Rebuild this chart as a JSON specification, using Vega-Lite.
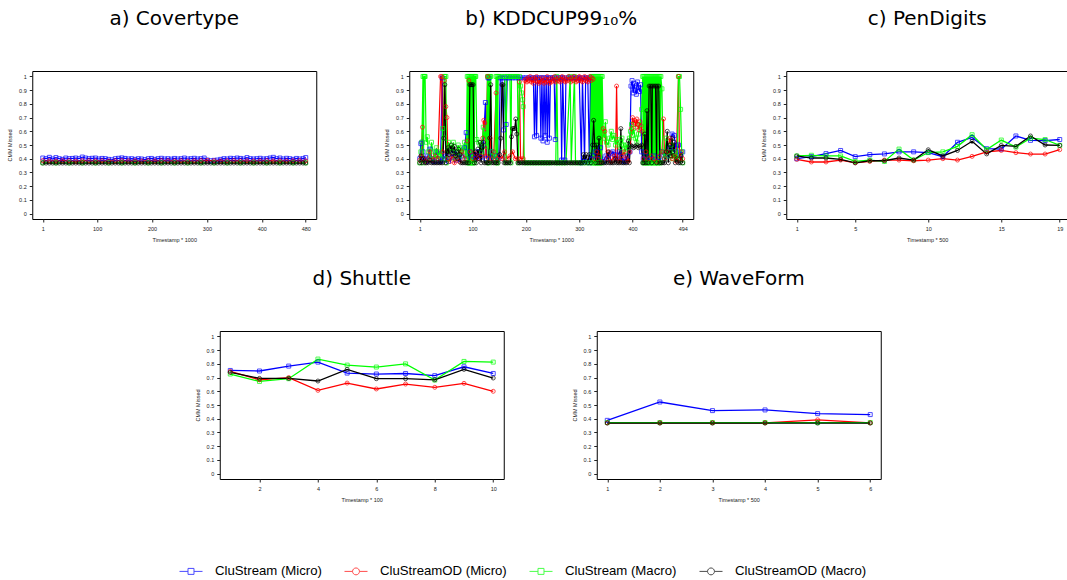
{
"$schema": "https://vega.github.io/schema/vega-lite/v6.json",
"padding": {"left": 7, "top": 8, "right": 0, "bottom": 0},
"datasets": {
"names": [{"s":1,"name":"CluStream (Micro)"},{"s":2,"name":"CluStreamOD (Micro)"},{"s":3,"name":"CluStream (Macro)"},{"s":4,"name":"CluStreamOD (Macro)"}],
"a": [
{"s":1,"x":1,"y":0.405},{"s":1,"x":7,"y":0.4},{"s":1,"x":13,"y":0.41},{"s":1,"x":19,"y":0.398},{"s":1,"x":25,"y":0.408},{"s":1,"x":31,"y":0.4},{"s":1,"x":37,"y":0.395},{"s":1,"x":43,"y":0.405},{"s":1,"x":49,"y":0.4},{"s":1,"x":55,"y":0.402},{"s":1,"x":61,"y":0.405},{"s":1,"x":67,"y":0.4},{"s":1,"x":73,"y":0.412},{"s":1,"x":79,"y":0.405},{"s":1,"x":85,"y":0.4},{"s":1,"x":91,"y":0.403},{"s":1,"x":97,"y":0.405},{"s":1,"x":103,"y":0.398},{"s":1,"x":109,"y":0.402},{"s":1,"x":115,"y":0.4},{"s":1,"x":121,"y":0.395},{"s":1,"x":127,"y":0.392},{"s":1,"x":133,"y":0.4},{"s":1,"x":139,"y":0.403},{"s":1,"x":145,"y":0.406},{"s":1,"x":151,"y":0.402},{"s":1,"x":157,"y":0.398},{"s":1,"x":163,"y":0.4},{"s":1,"x":169,"y":0.395},{"s":1,"x":175,"y":0.4},{"s":1,"x":181,"y":0.398},{"s":1,"x":187,"y":0.393},{"s":1,"x":193,"y":0.4},{"s":1,"x":199,"y":0.402},{"s":1,"x":205,"y":0.395},{"s":1,"x":211,"y":0.4},{"s":1,"x":217,"y":0.403},{"s":1,"x":223,"y":0.398},{"s":1,"x":229,"y":0.4},{"s":1,"x":235,"y":0.397},{"s":1,"x":241,"y":0.402},{"s":1,"x":247,"y":0.398},{"s":1,"x":253,"y":0.4},{"s":1,"x":259,"y":0.405},{"s":1,"x":265,"y":0.398},{"s":1,"x":271,"y":0.4},{"s":1,"x":277,"y":0.403},{"s":1,"x":283,"y":0.398},{"s":1,"x":289,"y":0.4},{"s":1,"x":295,"y":0.405},{"s":1,"x":301,"y":0.39},{"s":1,"x":307,"y":0.385},{"s":1,"x":313,"y":0.388},{"s":1,"x":319,"y":0.39},{"s":1,"x":325,"y":0.395},{"s":1,"x":331,"y":0.4},{"s":1,"x":337,"y":0.398},{"s":1,"x":343,"y":0.403},{"s":1,"x":349,"y":0.4},{"s":1,"x":355,"y":0.405},{"s":1,"x":361,"y":0.402},{"s":1,"x":367,"y":0.398},{"s":1,"x":373,"y":0.408},{"s":1,"x":379,"y":0.4},{"s":1,"x":385,"y":0.398},{"s":1,"x":391,"y":0.4},{"s":1,"x":397,"y":0.403},{"s":1,"x":403,"y":0.398},{"s":1,"x":409,"y":0.4},{"s":1,"x":415,"y":0.405},{"s":1,"x":421,"y":0.41},{"s":1,"x":427,"y":0.4},{"s":1,"x":433,"y":0.405},{"s":1,"x":439,"y":0.398},{"s":1,"x":445,"y":0.403},{"s":1,"x":451,"y":0.4},{"s":1,"x":457,"y":0.395},{"s":1,"x":463,"y":0.402},{"s":1,"x":469,"y":0.398},{"s":1,"x":475,"y":0.4},{"s":1,"x":480,"y":0.408},
{"s":2,"x":1,"y":0.386},{"s":2,"x":13,"y":0.385},{"s":2,"x":25,"y":0.384},{"s":2,"x":37,"y":0.386},{"s":2,"x":49,"y":0.385},{"s":2,"x":61,"y":0.383},{"s":2,"x":73,"y":0.386},{"s":2,"x":85,"y":0.385},{"s":2,"x":97,"y":0.384},{"s":2,"x":109,"y":0.385},{"s":2,"x":121,"y":0.383},{"s":2,"x":133,"y":0.385},{"s":2,"x":145,"y":0.386},{"s":2,"x":157,"y":0.384},{"s":2,"x":169,"y":0.385},{"s":2,"x":181,"y":0.383},{"s":2,"x":193,"y":0.385},{"s":2,"x":205,"y":0.384},{"s":2,"x":217,"y":0.386},{"s":2,"x":229,"y":0.385},{"s":2,"x":241,"y":0.384},{"s":2,"x":253,"y":0.385},{"s":2,"x":265,"y":0.383},{"s":2,"x":277,"y":0.385},{"s":2,"x":289,"y":0.386},{"s":2,"x":301,"y":0.388},{"s":2,"x":313,"y":0.385},{"s":2,"x":325,"y":0.384},{"s":2,"x":337,"y":0.385},{"s":2,"x":349,"y":0.386},{"s":2,"x":361,"y":0.384},{"s":2,"x":373,"y":0.385},{"s":2,"x":385,"y":0.383},{"s":2,"x":397,"y":0.385},{"s":2,"x":409,"y":0.386},{"s":2,"x":421,"y":0.384},{"s":2,"x":433,"y":0.385},{"s":2,"x":445,"y":0.384},{"s":2,"x":457,"y":0.385},{"s":2,"x":469,"y":0.386},{"s":2,"x":480,"y":0.385},
{"s":3,"x":1,"y":0.37},{"s":3,"x":25,"y":0.37},{"s":3,"x":49,"y":0.37},{"s":3,"x":73,"y":0.37},{"s":3,"x":97,"y":0.37},{"s":3,"x":121,"y":0.37},{"s":3,"x":145,"y":0.37},{"s":3,"x":169,"y":0.37},{"s":3,"x":193,"y":0.37},{"s":3,"x":217,"y":0.37},{"s":3,"x":241,"y":0.37},{"s":3,"x":265,"y":0.37},{"s":3,"x":289,"y":0.37},{"s":3,"x":313,"y":0.37},{"s":3,"x":337,"y":0.37},{"s":3,"x":361,"y":0.37},{"s":3,"x":385,"y":0.37},{"s":3,"x":409,"y":0.37},{"s":3,"x":433,"y":0.37},{"s":3,"x":457,"y":0.37},{"s":3,"x":480,"y":0.37},
{"s":4,"x":1,"y":0.368},{"s":4,"x":7,"y":0.368},{"s":4,"x":13,"y":0.368},{"s":4,"x":19,"y":0.368},{"s":4,"x":25,"y":0.368},{"s":4,"x":31,"y":0.368},{"s":4,"x":37,"y":0.368},{"s":4,"x":43,"y":0.368},{"s":4,"x":49,"y":0.368},{"s":4,"x":55,"y":0.368},{"s":4,"x":61,"y":0.368},{"s":4,"x":67,"y":0.368},{"s":4,"x":73,"y":0.368},{"s":4,"x":79,"y":0.368},{"s":4,"x":85,"y":0.368},{"s":4,"x":91,"y":0.368},{"s":4,"x":97,"y":0.368},{"s":4,"x":103,"y":0.368},{"s":4,"x":109,"y":0.368},{"s":4,"x":115,"y":0.368},{"s":4,"x":121,"y":0.368},{"s":4,"x":127,"y":0.368},{"s":4,"x":133,"y":0.368},{"s":4,"x":139,"y":0.368},{"s":4,"x":145,"y":0.368},{"s":4,"x":151,"y":0.368},{"s":4,"x":157,"y":0.368},{"s":4,"x":163,"y":0.368},{"s":4,"x":169,"y":0.368},{"s":4,"x":175,"y":0.368},{"s":4,"x":181,"y":0.368},{"s":4,"x":187,"y":0.368},{"s":4,"x":193,"y":0.368},{"s":4,"x":199,"y":0.368},{"s":4,"x":205,"y":0.368},{"s":4,"x":211,"y":0.368},{"s":4,"x":217,"y":0.368},{"s":4,"x":223,"y":0.368},{"s":4,"x":229,"y":0.368},{"s":4,"x":235,"y":0.368},{"s":4,"x":241,"y":0.368},{"s":4,"x":247,"y":0.368},{"s":4,"x":253,"y":0.368},{"s":4,"x":259,"y":0.368},{"s":4,"x":265,"y":0.368},{"s":4,"x":271,"y":0.368},{"s":4,"x":277,"y":0.368},{"s":4,"x":283,"y":0.368},{"s":4,"x":289,"y":0.368},{"s":4,"x":295,"y":0.368},{"s":4,"x":301,"y":0.368},{"s":4,"x":307,"y":0.368},{"s":4,"x":313,"y":0.368},{"s":4,"x":319,"y":0.368},{"s":4,"x":325,"y":0.368},{"s":4,"x":331,"y":0.368},{"s":4,"x":337,"y":0.368},{"s":4,"x":343,"y":0.368},{"s":4,"x":349,"y":0.368},{"s":4,"x":355,"y":0.368},{"s":4,"x":361,"y":0.368},{"s":4,"x":367,"y":0.368},{"s":4,"x":373,"y":0.368},{"s":4,"x":379,"y":0.368},{"s":4,"x":385,"y":0.368},{"s":4,"x":391,"y":0.368},{"s":4,"x":397,"y":0.368},{"s":4,"x":403,"y":0.368},{"s":4,"x":409,"y":0.368},{"s":4,"x":415,"y":0.368},{"s":4,"x":421,"y":0.368},{"s":4,"x":427,"y":0.368},{"s":4,"x":433,"y":0.368},{"s":4,"x":439,"y":0.368},{"s":4,"x":445,"y":0.368},{"s":4,"x":451,"y":0.368},{"s":4,"x":457,"y":0.368},{"s":4,"x":463,"y":0.368},{"s":4,"x":469,"y":0.368},{"s":4,"x":475,"y":0.368},{"s":4,"x":480,"y":0.368}
],
"b": [
{"s":1,"x":1,"y":0.4},{"s":1,"x":3,"y":0.51},{"s":1,"x":5,"y":0.52},{"s":1,"x":7,"y":0.45},{"s":1,"x":10,"y":0.4},{"s":1,"x":13,"y":0.38},{"s":1,"x":16,"y":0.42},{"s":1,"x":20,"y":0.47},{"s":1,"x":24,"y":0.4},{"s":1,"x":28,"y":0.38},{"s":1,"x":32,"y":0.45},{"s":1,"x":36,"y":0.4},{"s":1,"x":40,"y":0.38},{"s":1,"x":43,"y":0.99},{"s":1,"x":45,"y":0.4},{"s":1,"x":50,"y":0.42},{"s":1,"x":55,"y":0.38},{"s":1,"x":60,"y":0.41},{"s":1,"x":65,"y":0.44},{"s":1,"x":70,"y":0.39},{"s":1,"x":75,"y":0.4},{"s":1,"x":80,"y":0.42},{"s":1,"x":85,"y":0.48},{"s":1,"x":88,"y":0.59},{"s":1,"x":90,"y":0.4},{"s":1,"x":95,"y":0.45},{"s":1,"x":100,"y":0.42},{"s":1,"x":105,"y":0.4},{"s":1,"x":110,"y":0.45},{"s":1,"x":115,"y":0.41},{"s":1,"x":120,"y":0.5},{"s":1,"x":124,"y":0.81},{"s":1,"x":126,"y":0.4},{"s":1,"x":129,"y":0.99},{"s":1,"x":131,"y":0.99},{"s":1,"x":133,"y":0.4},{"s":1,"x":136,"y":0.45},{"s":1,"x":140,"y":0.4},{"s":1,"x":145,"y":0.42},{"s":1,"x":149,"y":0.4},{"s":1,"x":152,"y":0.99},{"s":1,"x":155,"y":0.99},{"s":1,"x":158,"y":0.61},{"s":1,"x":160,"y":0.99},{"s":1,"x":163,"y":0.65},{"s":1,"x":165,"y":0.99},{"s":1,"x":170,"y":0.99},{"s":1,"x":175,"y":0.99},{"s":1,"x":180,"y":0.99},{"s":1,"x":185,"y":0.99},{"s":1,"x":190,"y":0.99},{"s":1,"x":195,"y":0.99},{"s":1,"x":200,"y":0.99},{"s":1,"x":205,"y":0.99},{"s":1,"x":210,"y":0.99},{"s":1,"x":214,"y":0.99},{"s":1,"x":216,"y":0.56},{"s":1,"x":218,"y":0.99},{"s":1,"x":220,"y":0.57},{"s":1,"x":222,"y":0.99},{"s":1,"x":226,"y":0.99},{"s":1,"x":228,"y":0.55},{"s":1,"x":230,"y":0.99},{"s":1,"x":232,"y":0.53},{"s":1,"x":234,"y":0.99},{"s":1,"x":236,"y":0.57},{"s":1,"x":238,"y":0.99},{"s":1,"x":240,"y":0.52},{"s":1,"x":242,"y":0.99},{"s":1,"x":244,"y":0.55},{"s":1,"x":246,"y":0.99},{"s":1,"x":250,"y":0.99},{"s":1,"x":253,"y":0.99},{"s":1,"x":255,"y":0.54},{"s":1,"x":257,"y":0.99},{"s":1,"x":261,"y":0.99},{"s":1,"x":265,"y":0.99},{"s":1,"x":267,"y":0.39},{"s":1,"x":269,"y":0.99},{"s":1,"x":273,"y":0.39},{"s":1,"x":275,"y":0.99},{"s":1,"x":280,"y":0.99},{"s":1,"x":285,"y":0.99},{"s":1,"x":290,"y":0.99},{"s":1,"x":295,"y":0.99},{"s":1,"x":300,"y":0.99},{"s":1,"x":304,"y":0.37},{"s":1,"x":306,"y":0.99},{"s":1,"x":310,"y":0.38},{"s":1,"x":312,"y":0.99},{"s":1,"x":316,"y":0.99},{"s":1,"x":319,"y":0.37},{"s":1,"x":321,"y":0.99},{"s":1,"x":323,"y":0.4},{"s":1,"x":326,"y":0.42},{"s":1,"x":330,"y":0.45},{"s":1,"x":335,"y":0.4},{"s":1,"x":340,"y":0.48},{"s":1,"x":345,"y":0.38},{"s":1,"x":350,"y":0.42},{"s":1,"x":355,"y":0.4},{"s":1,"x":360,"y":0.44},{"s":1,"x":363,"y":0.45},{"s":1,"x":366,"y":0.43},{"s":1,"x":370,"y":0.4},{"s":1,"x":375,"y":0.45},{"s":1,"x":380,"y":0.41},{"s":1,"x":385,"y":0.38},{"s":1,"x":390,"y":0.42},{"s":1,"x":395,"y":0.45},{"s":1,"x":397,"y":0.93},{"s":1,"x":399,"y":0.97},{"s":1,"x":401,"y":0.88},{"s":1,"x":403,"y":0.95},{"s":1,"x":405,"y":0.9},{"s":1,"x":407,"y":0.87},{"s":1,"x":409,"y":0.96},{"s":1,"x":411,"y":0.92},{"s":1,"x":413,"y":0.89},{"s":1,"x":415,"y":0.94},{"s":1,"x":417,"y":0.45},{"s":1,"x":420,"y":0.4},{"s":1,"x":425,"y":0.42},{"s":1,"x":430,"y":0.38},{"s":1,"x":435,"y":0.4},{"s":1,"x":440,"y":0.42},{"s":1,"x":445,"y":0.38},{"s":1,"x":450,"y":0.41},{"s":1,"x":455,"y":0.45},{"s":1,"x":460,"y":0.4},{"s":1,"x":465,"y":0.42},{"s":1,"x":470,"y":0.48},{"s":1,"x":474,"y":0.58},{"s":1,"x":478,"y":0.57},{"s":1,"x":482,"y":0.45},{"s":1,"x":486,"y":0.5},{"s":1,"x":490,"y":0.43},{"s":1,"x":494,"y":0.45},
{"s":2,"x":1,"y":0.39},{"s":2,"x":4,"y":0.42},{"s":2,"x":6,"y":0.63},{"s":2,"x":8,"y":0.4},{"s":2,"x":12,"y":0.38},{"s":2,"x":16,"y":0.4},{"s":2,"x":20,"y":0.45},{"s":2,"x":25,"y":0.39},{"s":2,"x":30,"y":0.42},{"s":2,"x":35,"y":0.4},{"s":2,"x":40,"y":1},{"s":2,"x":42,"y":1},{"s":2,"x":44,"y":0.45},{"s":2,"x":47,"y":0.97},{"s":2,"x":50,"y":0.78},{"s":2,"x":52,"y":0.7},{"s":2,"x":54,"y":0.4},{"s":2,"x":58,"y":0.38},{"s":2,"x":62,"y":0.42},{"s":2,"x":66,"y":0.37},{"s":2,"x":70,"y":0.4},{"s":2,"x":75,"y":0.38},{"s":2,"x":80,"y":0.45},{"s":2,"x":85,"y":0.4},{"s":2,"x":90,"y":0.53},{"s":2,"x":93,"y":0.97},{"s":2,"x":96,"y":0.45},{"s":2,"x":100,"y":0.4},{"s":2,"x":105,"y":0.44},{"s":2,"x":110,"y":0.4},{"s":2,"x":115,"y":0.42},{"s":2,"x":119,"y":0.55},{"s":2,"x":121,"y":0.68},{"s":2,"x":123,"y":0.66},{"s":2,"x":125,"y":0.42},{"s":2,"x":128,"y":1},{"s":2,"x":130,"y":0.4},{"s":2,"x":133,"y":0.55},{"s":2,"x":136,"y":0.4},{"s":2,"x":140,"y":0.45},{"s":2,"x":144,"y":0.88},{"s":2,"x":146,"y":0.4},{"s":2,"x":150,"y":0.42},{"s":2,"x":155,"y":0.4},{"s":2,"x":160,"y":0.45},{"s":2,"x":165,"y":0.4},{"s":2,"x":170,"y":0.42},{"s":2,"x":175,"y":0.45},{"s":2,"x":180,"y":0.4},{"s":2,"x":185,"y":0.4},{"s":2,"x":188,"y":0.96},{"s":2,"x":190,"y":0.4},{"s":2,"x":195,"y":0.4},{"s":2,"x":198,"y":0.97},{"s":2,"x":200,"y":0.98},{"s":2,"x":202,"y":0.96},{"s":2,"x":204,"y":0.99},{"s":2,"x":206,"y":0.97},{"s":2,"x":208,"y":1},{"s":2,"x":210,"y":0.96},{"s":2,"x":212,"y":0.98},{"s":2,"x":214,"y":0.95},{"s":2,"x":216,"y":0.99},{"s":2,"x":218,"y":0.97},{"s":2,"x":220,"y":1},{"s":2,"x":222,"y":0.96},{"s":2,"x":224,"y":0.95},{"s":2,"x":226,"y":0.98},{"s":2,"x":228,"y":0.96},{"s":2,"x":230,"y":0.99},{"s":2,"x":232,"y":0.97},{"s":2,"x":234,"y":0.95},{"s":2,"x":236,"y":0.98},{"s":2,"x":238,"y":0.96},{"s":2,"x":240,"y":1},{"s":2,"x":242,"y":0.97},{"s":2,"x":244,"y":0.95},{"s":2,"x":246,"y":0.98},{"s":2,"x":248,"y":0.96},{"s":2,"x":250,"y":0.99},{"s":2,"x":252,"y":0.97},{"s":2,"x":254,"y":1},{"s":2,"x":256,"y":0.96},{"s":2,"x":258,"y":0.98},{"s":2,"x":260,"y":0.97},{"s":2,"x":262,"y":0.99},{"s":2,"x":264,"y":0.96},{"s":2,"x":266,"y":0.98},{"s":2,"x":268,"y":1},{"s":2,"x":270,"y":0.97},{"s":2,"x":272,"y":0.99},{"s":2,"x":274,"y":0.96},{"s":2,"x":276,"y":0.98},{"s":2,"x":278,"y":0.97},{"s":2,"x":280,"y":1},{"s":2,"x":282,"y":0.98},{"s":2,"x":284,"y":0.96},{"s":2,"x":286,"y":0.99},{"s":2,"x":288,"y":0.97},{"s":2,"x":290,"y":1},{"s":2,"x":292,"y":0.98},{"s":2,"x":294,"y":0.96},{"s":2,"x":296,"y":0.99},{"s":2,"x":298,"y":0.97},{"s":2,"x":300,"y":1},{"s":2,"x":302,"y":0.97},{"s":2,"x":304,"y":0.99},{"s":2,"x":306,"y":0.96},{"s":2,"x":308,"y":0.98},{"s":2,"x":310,"y":1},{"s":2,"x":312,"y":0.97},{"s":2,"x":314,"y":0.99},{"s":2,"x":316,"y":0.96},{"s":2,"x":318,"y":0.98},{"s":2,"x":320,"y":1},{"s":2,"x":322,"y":0.97},{"s":2,"x":324,"y":0.99},{"s":2,"x":326,"y":0.98},{"s":2,"x":329,"y":0.4},{"s":2,"x":333,"y":0.45},{"s":2,"x":337,"y":0.42},{"s":2,"x":341,"y":0.38},{"s":2,"x":345,"y":0.62},{"s":2,"x":348,"y":0.6},{"s":2,"x":352,"y":0.4},{"s":2,"x":356,"y":0.45},{"s":2,"x":360,"y":0.38},{"s":2,"x":365,"y":0.42},{"s":2,"x":368,"y":0.4},{"s":2,"x":370,"y":0.93},{"s":2,"x":372,"y":0.4},{"s":2,"x":376,"y":0.38},{"s":2,"x":380,"y":0.42},{"s":2,"x":384,"y":0.45},{"s":2,"x":388,"y":0.4},{"s":2,"x":392,"y":0.38},{"s":2,"x":395,"y":0.45},{"s":2,"x":398,"y":0.62},{"s":2,"x":400,"y":0.7},{"s":2,"x":402,"y":0.66},{"s":2,"x":404,"y":0.68},{"s":2,"x":406,"y":0.63},{"s":2,"x":408,"y":0.69},{"s":2,"x":410,"y":0.65},{"s":2,"x":412,"y":0.61},{"s":2,"x":414,"y":0.67},{"s":2,"x":416,"y":0.64},{"s":2,"x":418,"y":0.6},{"s":2,"x":421,"y":0.4},{"s":2,"x":425,"y":0.45},{"s":2,"x":430,"y":0.4},{"s":2,"x":435,"y":0.42},{"s":2,"x":440,"y":0.4},{"s":2,"x":445,"y":0.38},{"s":2,"x":450,"y":0.42},{"s":2,"x":455,"y":0.45},{"s":2,"x":458,"y":0.69},{"s":2,"x":460,"y":0.4},{"s":2,"x":465,"y":0.45},{"s":2,"x":470,"y":0.55},{"s":2,"x":474,"y":0.4},{"s":2,"x":478,"y":0.42},{"s":2,"x":482,"y":0.38},{"s":2,"x":486,"y":1},{"s":2,"x":488,"y":0.4},{"s":2,"x":491,"y":0.45},{"s":2,"x":494,"y":0.4},
{"s":3,"x":1,"y":0.37},{"s":3,"x":3,"y":0.45},{"s":3,"x":5,"y":0.52},{"s":3,"x":7,"y":1},{"s":3,"x":8,"y":0.37},{"s":3,"x":9,"y":1},{"s":3,"x":10,"y":1},{"s":3,"x":11,"y":1},{"s":3,"x":13,"y":0.52},{"s":3,"x":15,"y":0.56},{"s":3,"x":17,"y":0.45},{"s":3,"x":20,"y":0.4},{"s":3,"x":23,"y":0.52},{"s":3,"x":26,"y":0.45},{"s":3,"x":29,"y":0.4},{"s":3,"x":32,"y":0.48},{"s":3,"x":35,"y":0.42},{"s":3,"x":38,"y":0.45},{"s":3,"x":41,"y":0.4},{"s":3,"x":44,"y":0.62},{"s":3,"x":46,"y":0.55},{"s":3,"x":47,"y":1},{"s":3,"x":48,"y":1},{"s":3,"x":50,"y":1},{"s":3,"x":51,"y":0.37},{"s":3,"x":52,"y":0.4},{"s":3,"x":55,"y":0.52},{"s":3,"x":58,"y":0.48},{"s":3,"x":61,"y":0.45},{"s":3,"x":64,"y":0.52},{"s":3,"x":67,"y":0.4},{"s":3,"x":70,"y":0.45},{"s":3,"x":73,"y":0.5},{"s":3,"x":76,"y":0.42},{"s":3,"x":79,"y":0.48},{"s":3,"x":82,"y":0.45},{"s":3,"x":85,"y":0.52},{"s":3,"x":88,"y":0.4},{"s":3,"x":90,"y":1},{"s":3,"x":91,"y":0.37},{"s":3,"x":92,"y":1},{"s":3,"x":93,"y":0.37},{"s":3,"x":94,"y":1},{"s":3,"x":95,"y":0.37},{"s":3,"x":96,"y":1},{"s":3,"x":97,"y":0.37},{"s":3,"x":98,"y":1},{"s":3,"x":99,"y":0.37},{"s":3,"x":100,"y":1},{"s":3,"x":101,"y":0.37},{"s":3,"x":102,"y":1},{"s":3,"x":103,"y":0.37},{"s":3,"x":104,"y":1},{"s":3,"x":105,"y":1},{"s":3,"x":106,"y":1},{"s":3,"x":108,"y":0.54},{"s":3,"x":111,"y":0.52},{"s":3,"x":114,"y":0.5},{"s":3,"x":117,"y":0.45},{"s":3,"x":120,"y":0.63},{"s":3,"x":122,"y":0.55},{"s":3,"x":124,"y":0.6},{"s":3,"x":126,"y":0.49},{"s":3,"x":128,"y":1},{"s":3,"x":129,"y":0.37},{"s":3,"x":130,"y":1},{"s":3,"x":131,"y":0.37},{"s":3,"x":132,"y":1},{"s":3,"x":133,"y":1},{"s":3,"x":134,"y":1},{"s":3,"x":136,"y":0.45},{"s":3,"x":139,"y":0.42},{"s":3,"x":142,"y":0.4},{"s":3,"x":144,"y":1},{"s":3,"x":145,"y":0.37},{"s":3,"x":146,"y":1},{"s":3,"x":147,"y":0.37},{"s":3,"x":148,"y":1},{"s":3,"x":150,"y":1},{"s":3,"x":155,"y":1},{"s":3,"x":160,"y":1},{"s":3,"x":163,"y":0.37},{"s":3,"x":164,"y":1},{"s":3,"x":167,"y":1},{"s":3,"x":170,"y":1},{"s":3,"x":172,"y":0.37},{"s":3,"x":173,"y":1},{"s":3,"x":176,"y":1},{"s":3,"x":179,"y":1},{"s":3,"x":182,"y":1},{"s":3,"x":184,"y":1},{"s":3,"x":186,"y":0.37},{"s":3,"x":188,"y":1},{"s":3,"x":190,"y":0.93},{"s":3,"x":192,"y":0.88},{"s":3,"x":194,"y":0.83},{"s":3,"x":195,"y":0.78},{"s":3,"x":197,"y":0.37},{"s":3,"x":202,"y":0.37},{"s":3,"x":207,"y":0.37},{"s":3,"x":212,"y":0.37},{"s":3,"x":217,"y":0.37},{"s":3,"x":222,"y":0.37},{"s":3,"x":227,"y":0.37},{"s":3,"x":232,"y":0.37},{"s":3,"x":237,"y":0.37},{"s":3,"x":242,"y":0.37},{"s":3,"x":247,"y":0.37},{"s":3,"x":256,"y":0.37},{"s":3,"x":258,"y":1},{"s":3,"x":260,"y":0.37},{"s":3,"x":265,"y":0.37},{"s":3,"x":270,"y":0.37},{"s":3,"x":275,"y":0.37},{"s":3,"x":283,"y":1},{"s":3,"x":285,"y":0.37},{"s":3,"x":291,"y":1},{"s":3,"x":293,"y":0.37},{"s":3,"x":299,"y":0.37},{"s":3,"x":304,"y":0.37},{"s":3,"x":310,"y":0.37},{"s":3,"x":315,"y":0.37},{"s":3,"x":320,"y":0.37},{"s":3,"x":323,"y":1},{"s":3,"x":324,"y":0.37},{"s":3,"x":325,"y":1},{"s":3,"x":326,"y":0.37},{"s":3,"x":327,"y":1},{"s":3,"x":328,"y":0.37},{"s":3,"x":329,"y":1},{"s":3,"x":330,"y":0.37},{"s":3,"x":331,"y":1},{"s":3,"x":332,"y":0.37},{"s":3,"x":333,"y":1},{"s":3,"x":334,"y":0.37},{"s":3,"x":335,"y":1},{"s":3,"x":336,"y":0.37},{"s":3,"x":337,"y":1},{"s":3,"x":338,"y":0.37},{"s":3,"x":339,"y":1},{"s":3,"x":340,"y":0.37},{"s":3,"x":341,"y":1},{"s":3,"x":342,"y":0.37},{"s":3,"x":343,"y":1},{"s":3,"x":345,"y":0.58},{"s":3,"x":347,"y":0.55},{"s":3,"x":349,"y":0.67},{"s":3,"x":351,"y":0.52},{"s":3,"x":354,"y":0.5},{"s":3,"x":357,"y":0.55},{"s":3,"x":360,"y":0.6},{"s":3,"x":362,"y":0.54},{"s":3,"x":365,"y":0.57},{"s":3,"x":368,"y":0.5},{"s":3,"x":371,"y":0.54},{"s":3,"x":374,"y":0.52},{"s":3,"x":377,"y":0.48},{"s":3,"x":380,"y":0.55},{"s":3,"x":383,"y":0.5},{"s":3,"x":386,"y":0.45},{"s":3,"x":389,"y":0.5},{"s":3,"x":392,"y":0.48},{"s":3,"x":394,"y":0.55},{"s":3,"x":396,"y":0.6},{"s":3,"x":398,"y":0.65},{"s":3,"x":400,"y":0.57},{"s":3,"x":402,"y":0.62},{"s":3,"x":405,"y":0.55},{"s":3,"x":408,"y":0.52},{"s":3,"x":411,"y":0.58},{"s":3,"x":414,"y":0.65},{"s":3,"x":417,"y":0.76},{"s":3,"x":419,"y":1},{"s":3,"x":420,"y":0.37},{"s":3,"x":421,"y":1},{"s":3,"x":422,"y":0.37},{"s":3,"x":423,"y":1},{"s":3,"x":424,"y":0.37},{"s":3,"x":425,"y":1},{"s":3,"x":426,"y":0.37},{"s":3,"x":427,"y":1},{"s":3,"x":428,"y":0.37},{"s":3,"x":429,"y":1},{"s":3,"x":430,"y":0.37},{"s":3,"x":431,"y":1},{"s":3,"x":432,"y":0.37},{"s":3,"x":433,"y":1},{"s":3,"x":434,"y":0.37},{"s":3,"x":435,"y":1},{"s":3,"x":436,"y":0.37},{"s":3,"x":437,"y":1},{"s":3,"x":438,"y":0.37},{"s":3,"x":439,"y":1},{"s":3,"x":440,"y":0.37},{"s":3,"x":441,"y":1},{"s":3,"x":442,"y":0.37},{"s":3,"x":443,"y":1},{"s":3,"x":444,"y":0.37},{"s":3,"x":445,"y":1},{"s":3,"x":446,"y":0.37},{"s":3,"x":447,"y":1},{"s":3,"x":448,"y":0.37},{"s":3,"x":449,"y":1},{"s":3,"x":450,"y":0.37},{"s":3,"x":451,"y":1},{"s":3,"x":452,"y":0.37},{"s":3,"x":453,"y":1},{"s":3,"x":455,"y":0.91},{"s":3,"x":457,"y":0.45},{"s":3,"x":460,"y":0.4},{"s":3,"x":463,"y":0.55},{"s":3,"x":466,"y":0.42},{"s":3,"x":469,"y":0.45},{"s":3,"x":472,"y":0.5},{"s":3,"x":475,"y":0.4},{"s":3,"x":478,"y":0.45},{"s":3,"x":481,"y":0.42},{"s":3,"x":484,"y":0.4},{"s":3,"x":486,"y":1},{"s":3,"x":488,"y":1},{"s":3,"x":490,"y":0.76},{"s":3,"x":492,"y":0.45},{"s":3,"x":494,"y":0.37},
{"s":4,"x":1,"y":0.37},{"s":4,"x":3,"y":0.42},{"s":4,"x":5,"y":0.37},{"s":4,"x":8,"y":0.4},{"s":4,"x":11,"y":0.37},{"s":4,"x":14,"y":0.37},{"s":4,"x":17,"y":0.37},{"s":4,"x":20,"y":0.39},{"s":4,"x":23,"y":0.37},{"s":4,"x":26,"y":0.37},{"s":4,"x":29,"y":0.37},{"s":4,"x":32,"y":0.37},{"s":4,"x":35,"y":0.37},{"s":4,"x":38,"y":0.37},{"s":4,"x":41,"y":0.37},{"s":4,"x":44,"y":0.37},{"s":4,"x":46,"y":0.55},{"s":4,"x":48,"y":0.94},{"s":4,"x":50,"y":0.37},{"s":4,"x":52,"y":0.45},{"s":4,"x":54,"y":0.48},{"s":4,"x":56,"y":0.43},{"s":4,"x":58,"y":0.47},{"s":4,"x":60,"y":0.5},{"s":4,"x":62,"y":0.44},{"s":4,"x":64,"y":0.46},{"s":4,"x":66,"y":0.49},{"s":4,"x":68,"y":0.42},{"s":4,"x":70,"y":0.45},{"s":4,"x":72,"y":0.4},{"s":4,"x":74,"y":0.47},{"s":4,"x":76,"y":0.43},{"s":4,"x":78,"y":0.37},{"s":4,"x":81,"y":0.37},{"s":4,"x":84,"y":0.37},{"s":4,"x":87,"y":0.37},{"s":4,"x":90,"y":0.37},{"s":4,"x":93,"y":0.37},{"s":4,"x":95,"y":0.94},{"s":4,"x":97,"y":0.94},{"s":4,"x":99,"y":0.94},{"s":4,"x":101,"y":0.94},{"s":4,"x":103,"y":0.37},{"s":4,"x":105,"y":0.45},{"s":4,"x":107,"y":0.37},{"s":4,"x":110,"y":0.47},{"s":4,"x":112,"y":0.4},{"s":4,"x":114,"y":0.52},{"s":4,"x":116,"y":0.37},{"s":4,"x":118,"y":0.48},{"s":4,"x":120,"y":0.52},{"s":4,"x":122,"y":0.37},{"s":4,"x":125,"y":0.37},{"s":4,"x":128,"y":0.37},{"s":4,"x":130,"y":0.37},{"s":4,"x":132,"y":0.55},{"s":4,"x":134,"y":0.94},{"s":4,"x":136,"y":0.37},{"s":4,"x":139,"y":0.37},{"s":4,"x":142,"y":0.37},{"s":4,"x":145,"y":0.37},{"s":4,"x":148,"y":0.37},{"s":4,"x":151,"y":0.43},{"s":4,"x":153,"y":0.55},{"s":4,"x":155,"y":0.94},{"s":4,"x":157,"y":0.94},{"s":4,"x":159,"y":0.37},{"s":4,"x":162,"y":0.37},{"s":4,"x":165,"y":0.37},{"s":4,"x":168,"y":0.37},{"s":4,"x":171,"y":0.37},{"s":4,"x":173,"y":0.56},{"s":4,"x":175,"y":0.62},{"s":4,"x":177,"y":0.62},{"s":4,"x":179,"y":0.62},{"s":4,"x":181,"y":0.69},{"s":4,"x":183,"y":0.58},{"s":4,"x":185,"y":0.37},{"s":4,"x":188,"y":0.37},{"s":4,"x":191,"y":0.37},{"s":4,"x":194,"y":0.37},{"s":4,"x":197,"y":0.37},{"s":4,"x":200,"y":0.37},{"s":4,"x":203,"y":0.37},{"s":4,"x":206,"y":0.37},{"s":4,"x":209,"y":0.37},{"s":4,"x":212,"y":0.37},{"s":4,"x":215,"y":0.37},{"s":4,"x":218,"y":0.37},{"s":4,"x":221,"y":0.37},{"s":4,"x":224,"y":0.37},{"s":4,"x":227,"y":0.37},{"s":4,"x":230,"y":0.37},{"s":4,"x":233,"y":0.37},{"s":4,"x":236,"y":0.37},{"s":4,"x":239,"y":0.37},{"s":4,"x":242,"y":0.37},{"s":4,"x":245,"y":0.37},{"s":4,"x":248,"y":0.37},{"s":4,"x":251,"y":0.37},{"s":4,"x":254,"y":0.37},{"s":4,"x":257,"y":0.37},{"s":4,"x":260,"y":0.37},{"s":4,"x":263,"y":0.37},{"s":4,"x":266,"y":0.37},{"s":4,"x":269,"y":0.37},{"s":4,"x":272,"y":0.37},{"s":4,"x":275,"y":0.37},{"s":4,"x":278,"y":0.37},{"s":4,"x":281,"y":0.37},{"s":4,"x":284,"y":0.37},{"s":4,"x":287,"y":0.37},{"s":4,"x":290,"y":0.37},{"s":4,"x":293,"y":0.37},{"s":4,"x":296,"y":0.37},{"s":4,"x":299,"y":0.37},{"s":4,"x":302,"y":0.37},{"s":4,"x":305,"y":0.37},{"s":4,"x":308,"y":0.43},{"s":4,"x":310,"y":0.37},{"s":4,"x":313,"y":0.43},{"s":4,"x":316,"y":0.37},{"s":4,"x":319,"y":0.43},{"s":4,"x":322,"y":0.37},{"s":4,"x":325,"y":0.5},{"s":4,"x":327,"y":0.68},{"s":4,"x":329,"y":0.5},{"s":4,"x":331,"y":0.37},{"s":4,"x":333,"y":0.5},{"s":4,"x":335,"y":0.37},{"s":4,"x":337,"y":0.55},{"s":4,"x":339,"y":0.37},{"s":4,"x":342,"y":0.37},{"s":4,"x":345,"y":0.37},{"s":4,"x":348,"y":0.37},{"s":4,"x":351,"y":0.37},{"s":4,"x":354,"y":0.45},{"s":4,"x":356,"y":0.37},{"s":4,"x":359,"y":0.37},{"s":4,"x":362,"y":0.37},{"s":4,"x":365,"y":0.37},{"s":4,"x":368,"y":0.4},{"s":4,"x":370,"y":0.37},{"s":4,"x":373,"y":0.37},{"s":4,"x":376,"y":0.37},{"s":4,"x":378,"y":0.62},{"s":4,"x":380,"y":0.37},{"s":4,"x":383,"y":0.37},{"s":4,"x":386,"y":0.37},{"s":4,"x":389,"y":0.37},{"s":4,"x":392,"y":0.53},{"s":4,"x":394,"y":0.37},{"s":4,"x":396,"y":0.5},{"s":4,"x":399,"y":0.49},{"s":4,"x":402,"y":0.48},{"s":4,"x":405,"y":0.49},{"s":4,"x":408,"y":0.5},{"s":4,"x":411,"y":0.48},{"s":4,"x":414,"y":0.49},{"s":4,"x":417,"y":0.5},{"s":4,"x":419,"y":0.37},{"s":4,"x":421,"y":0.37},{"s":4,"x":423,"y":0.58},{"s":4,"x":425,"y":0.37},{"s":4,"x":427,"y":0.75},{"s":4,"x":429,"y":0.37},{"s":4,"x":431,"y":0.93},{"s":4,"x":434,"y":0.93},{"s":4,"x":436,"y":0.37},{"s":4,"x":437,"y":0.93},{"s":4,"x":440,"y":0.93},{"s":4,"x":443,"y":0.93},{"s":4,"x":445,"y":0.37},{"s":4,"x":446,"y":0.93},{"s":4,"x":449,"y":0.93},{"s":4,"x":451,"y":0.37},{"s":4,"x":454,"y":0.37},{"s":4,"x":457,"y":0.37},{"s":4,"x":460,"y":0.37},{"s":4,"x":463,"y":0.45},{"s":4,"x":465,"y":0.6},{"s":4,"x":467,"y":0.37},{"s":4,"x":470,"y":0.5},{"s":4,"x":472,"y":0.42},{"s":4,"x":474,"y":0.55},{"s":4,"x":476,"y":0.45},{"s":4,"x":478,"y":0.52},{"s":4,"x":480,"y":0.37},{"s":4,"x":483,"y":0.4},{"s":4,"x":486,"y":0.37},{"s":4,"x":489,"y":0.37},{"s":4,"x":491,"y":0.42},{"s":4,"x":494,"y":0.37}
],
"c": [
{"s":1,"x":1,"y":0.4},{"s":1,"x":2,"y":0.415},{"s":1,"x":3,"y":0.437},{"s":1,"x":4,"y":0.46},{"s":1,"x":5,"y":0.415},{"s":1,"x":6,"y":0.43},{"s":1,"x":7,"y":0.435},{"s":1,"x":8,"y":0.45},{"s":1,"x":9,"y":0.45},{"s":1,"x":10,"y":0.445},{"s":1,"x":11,"y":0.415},{"s":1,"x":12,"y":0.52},{"s":1,"x":13,"y":0.555},{"s":1,"x":14,"y":0.473},{"s":1,"x":15,"y":0.47},{"s":1,"x":16,"y":0.566},{"s":1,"x":17,"y":0.534},{"s":1,"x":18,"y":0.532},{"s":1,"x":19,"y":0.54},
{"s":2,"x":1,"y":0.395},{"s":2,"x":2,"y":0.376},{"s":2,"x":3,"y":0.376},{"s":2,"x":4,"y":0.39},{"s":2,"x":5,"y":0.37},{"s":2,"x":6,"y":0.38},{"s":2,"x":7,"y":0.39},{"s":2,"x":8,"y":0.39},{"s":2,"x":9,"y":0.385},{"s":2,"x":10,"y":0.39},{"s":2,"x":11,"y":0.4},{"s":2,"x":12,"y":0.39},{"s":2,"x":13,"y":0.417},{"s":2,"x":14,"y":0.45},{"s":2,"x":15,"y":0.46},{"s":2,"x":16,"y":0.444},{"s":2,"x":17,"y":0.434},{"s":2,"x":18,"y":0.434},{"s":2,"x":19,"y":0.466},
{"s":3,"x":1,"y":0.42},{"s":3,"x":2,"y":0.425},{"s":3,"x":3,"y":0.42},{"s":3,"x":4,"y":0.42},{"s":3,"x":5,"y":0.38},{"s":3,"x":6,"y":0.39},{"s":3,"x":7,"y":0.38},{"s":3,"x":8,"y":0.47},{"s":3,"x":9,"y":0.39},{"s":3,"x":10,"y":0.445},{"s":3,"x":11,"y":0.45},{"s":3,"x":12,"y":0.49},{"s":3,"x":13,"y":0.575},{"s":3,"x":14,"y":0.466},{"s":3,"x":15,"y":0.536},{"s":3,"x":16,"y":0.485},{"s":3,"x":17,"y":0.55},{"s":3,"x":18,"y":0.54},{"s":3,"x":19,"y":0.497},
{"s":4,"x":1,"y":0.42},{"s":4,"x":2,"y":0.405},{"s":4,"x":3,"y":0.405},{"s":4,"x":4,"y":0.395},{"s":4,"x":5,"y":0.37},{"s":4,"x":6,"y":0.385},{"s":4,"x":7,"y":0.385},{"s":4,"x":8,"y":0.405},{"s":4,"x":9,"y":0.39},{"s":4,"x":10,"y":0.465},{"s":4,"x":11,"y":0.42},{"s":4,"x":12,"y":0.46},{"s":4,"x":13,"y":0.527},{"s":4,"x":14,"y":0.435},{"s":4,"x":15,"y":0.497},{"s":4,"x":16,"y":0.49},{"s":4,"x":17,"y":0.566},{"s":4,"x":18,"y":0.5},{"s":4,"x":19,"y":0.497}
],
"d": [
{"s":1,"x":1,"y":0.752},{"s":1,"x":2,"y":0.748},{"s":1,"x":3,"y":0.784},{"s":1,"x":4,"y":0.813},{"s":1,"x":5,"y":0.733},{"s":1,"x":6,"y":0.726},{"s":1,"x":7,"y":0.73},{"s":1,"x":8,"y":0.714},{"s":1,"x":9,"y":0.779},{"s":1,"x":10,"y":0.73},
{"s":2,"x":1,"y":0.745},{"s":2,"x":2,"y":0.684},{"s":2,"x":3,"y":0.7},{"s":2,"x":4,"y":0.607},{"s":2,"x":5,"y":0.66},{"s":2,"x":6,"y":0.617},{"s":2,"x":7,"y":0.653},{"s":2,"x":8,"y":0.629},{"s":2,"x":9,"y":0.658},{"s":2,"x":10,"y":0.6},
{"s":3,"x":1,"y":0.726},{"s":3,"x":2,"y":0.672},{"s":3,"x":3,"y":0.692},{"s":3,"x":4,"y":0.835},{"s":3,"x":5,"y":0.791},{"s":3,"x":6,"y":0.777},{"s":3,"x":7,"y":0.8},{"s":3,"x":8,"y":0.682},{"s":3,"x":9,"y":0.818},{"s":3,"x":10,"y":0.813},
{"s":4,"x":1,"y":0.738},{"s":4,"x":2,"y":0.694},{"s":4,"x":3,"y":0.694},{"s":4,"x":4,"y":0.675},{"s":4,"x":5,"y":0.76},{"s":4,"x":6,"y":0.692},{"s":4,"x":7,"y":0.692},{"s":4,"x":8,"y":0.684},{"s":4,"x":9,"y":0.76},{"s":4,"x":10,"y":0.697}
],
"e": [
{"s":1,"x":1,"y":0.388},{"s":1,"x":2,"y":0.522},{"s":1,"x":3,"y":0.459},{"s":1,"x":4,"y":0.464},{"s":1,"x":5,"y":0.437},{"s":1,"x":6,"y":0.43},
{"s":2,"x":1,"y":0.37},{"s":2,"x":2,"y":0.37},{"s":2,"x":3,"y":0.37},{"s":2,"x":4,"y":0.37},{"s":2,"x":5,"y":0.392},{"s":2,"x":6,"y":0.37},
{"s":3,"x":1,"y":0.372},{"s":3,"x":2,"y":0.372},{"s":3,"x":3,"y":0.372},{"s":3,"x":4,"y":0.372},{"s":3,"x":5,"y":0.372},{"s":3,"x":6,"y":0.372},
{"s":4,"x":1,"y":0.368},{"s":4,"x":2,"y":0.368},{"s":4,"x":3,"y":0.368},{"s":4,"x":4,"y":0.368},{"s":4,"x":5,"y":0.368},{"s":4,"x":6,"y":0.368}
]
},
"config": {
"view": {"stroke": "#000", "strokeWidth": 1},
"font": "Liberation Sans",
"axis": {"labelFontSize": 5.5, "titleFontSize": 5.5, "titleFontWeight": "normal", "labelColor": "#222", "titleColor": "#222", "tickColor": "#222", "tickSize": 3, "domain": false, "grid": false, "labelPadding": 3, "titlePadding": 6, "labelFlush": false, "labelOverlap": false},
"axisX": {"labelPadding": 4, "titlePadding": 6},
"title": {"fontSize": 20, "fontWeight": "normal", "offset": 42, "color": "#000", "font": "DejaVu Sans"},
"legend": {"orient": "none", "legendX": 147, "legendY": 488, "direction": "horizontal", "symbolSize": 529, "symbolStrokeWidth": 1, "labelFontSize": 13.2, "labelColor": "#000", "labelOffset": 12, "columnPadding": 20, "labelFont": "Liberation Sans", "padding": 0}
},
"spacing": 24,
"center": true,
"vconcat": [
{"spacing": 66, "hconcat": [
{"title": "a) Covertype", "width": 284, "height": 148, "data": {"name": "a"},
 "transform": [{"lookup": "s", "from": {"data": {"name": "names"}, "key": "s", "fields": ["name"]}}],
 "encoding": {
  "x": {"field": "x", "type": "quantitative", "scale": {"domain": [-18.16, 499.16], "nice": false, "zero": false}, "axis": {"values": [1,100,200,300,400,480], "format": "d", "title": "Timestamp * 1000"}},
  "y": {"field": "y", "type": "quantitative", "scale": {"domain": [-0.04, 1.04], "nice": false, "zero": false}, "axis": {"values": [0,0.1,0.2,0.3,0.4,0.5,0.6,0.7,0.8,0.9,1], "format": "~g", "title": "CMM Missed"}},
  "color": {"field": "name", "type": "nominal", "title": null, "scale": {"domain": ["CluStream (Micro)","CluStreamOD (Micro)","CluStream (Macro)","CluStreamOD (Macro)"], "range": ["#0000ff","#ff0000","#00ff00","#000000"]}}
 },
 "layer": [
  {"mark": {"type": "line", "strokeWidth": 1.2}},
  {"transform": [{"filter": {"field": "s", "oneOf": [1,3]}}], "mark": {"type": "point", "shape": "square", "filled": false, "size": 16, "strokeWidth": 1}},
  {"transform": [{"filter": {"field": "s", "oneOf": [2,4]}}], "mark": {"type": "point", "shape": "circle", "filled": false, "size": 16, "strokeWidth": 1}}
 ]},
{"title": "b) KDDCUP99₁₀%", "width": 284, "height": 148, "data": {"name": "b"},
 "transform": [{"lookup": "s", "from": {"data": {"name": "names"}, "key": "s", "fields": ["name"]}}],
 "encoding": {
  "x": {"field": "x", "type": "quantitative", "scale": {"domain": [-18.72, 513.72], "nice": false, "zero": false}, "axis": {"values": [1,100,200,300,400,494], "format": "d", "title": "Timestamp * 1000"}},
  "y": {"field": "y", "type": "quantitative", "scale": {"domain": [-0.04, 1.04], "nice": false, "zero": false}, "axis": {"values": [0,0.1,0.2,0.3,0.4,0.5,0.6,0.7,0.8,0.9,1], "format": "~g", "title": "CMM Missed"}},
  "color": {"field": "name", "type": "nominal", "title": null, "scale": {"domain": ["CluStream (Micro)","CluStreamOD (Micro)","CluStream (Macro)","CluStreamOD (Macro)"], "range": ["#0000ff","#ff0000","#00ff00","#000000"]}}
 },
 "layer": [
  {"mark": {"type": "line", "strokeWidth": 1.2}},
  {"transform": [{"filter": {"field": "s", "oneOf": [1,3]}}], "mark": {"type": "point", "shape": "square", "filled": false, "size": 16, "strokeWidth": 1}},
  {"transform": [{"filter": {"field": "s", "oneOf": [2,4]}}], "mark": {"type": "point", "shape": "circle", "filled": false, "size": 16, "strokeWidth": 1}}
 ]},
{"title": "c) PenDigits", "width": 282, "height": 148, "data": {"name": "c"},
 "transform": [{"lookup": "s", "from": {"data": {"name": "names"}, "key": "s", "fields": ["name"]}}],
 "encoding": {
  "x": {"field": "x", "type": "quantitative", "scale": {"domain": [0.28, 19.583], "nice": false, "zero": false}, "axis": {"values": [1,5,10,15,19], "format": "d", "title": "Timestamp * 500"}},
  "y": {"field": "y", "type": "quantitative", "scale": {"domain": [-0.04, 1.04], "nice": false, "zero": false}, "axis": {"values": [0,0.1,0.2,0.3,0.4,0.5,0.6,0.7,0.8,0.9,1], "format": "~g", "title": "CMM Missed"}},
  "color": {"field": "name", "type": "nominal", "title": null, "scale": {"domain": ["CluStream (Micro)","CluStreamOD (Micro)","CluStream (Macro)","CluStreamOD (Macro)"], "range": ["#0000ff","#ff0000","#00ff00","#000000"]}}
 },
 "layer": [
  {"mark": {"type": "line", "strokeWidth": 1.3}},
  {"transform": [{"filter": {"field": "s", "oneOf": [1,3]}}], "mark": {"type": "point", "shape": "square", "filled": false, "size": 16, "strokeWidth": 1}},
  {"transform": [{"filter": {"field": "s", "oneOf": [2,4]}}], "mark": {"type": "point", "shape": "circle", "filled": false, "size": 16, "strokeWidth": 1}}
 ]}
]},
{"spacing": 66, "hconcat": [
{"title": "d) Shuttle", "width": 284, "height": 148, "data": {"name": "d"},
 "transform": [{"lookup": "s", "from": {"data": {"name": "names"}, "key": "s", "fields": ["name"]}}],
 "encoding": {
  "x": {"field": "x", "type": "quantitative", "scale": {"domain": [0.64, 10.36], "nice": false, "zero": false}, "axis": {"values": [2,4,6,8,10], "format": "d", "title": "Timestamp * 100"}},
  "y": {"field": "y", "type": "quantitative", "scale": {"domain": [-0.04, 1.04], "nice": false, "zero": false}, "axis": {"values": [0,0.1,0.2,0.3,0.4,0.5,0.6,0.7,0.8,0.9,1], "format": "~g", "title": "CMM Missed"}},
  "color": {"field": "name", "type": "nominal", "title": null, "scale": {"domain": ["CluStream (Micro)","CluStreamOD (Micro)","CluStream (Macro)","CluStreamOD (Macro)"], "range": ["#0000ff","#ff0000","#00ff00","#000000"]}}
 },
 "layer": [
  {"mark": {"type": "line", "strokeWidth": 1.3}},
  {"transform": [{"filter": {"field": "s", "oneOf": [1,3]}}], "mark": {"type": "point", "shape": "square", "filled": false, "size": 16, "strokeWidth": 1}},
  {"transform": [{"filter": {"field": "s", "oneOf": [2,4]}}], "mark": {"type": "point", "shape": "circle", "filled": false, "size": 16, "strokeWidth": 1}}
 ]},
{"title": "e) WaveForm", "width": 284, "height": 148, "data": {"name": "e"},
 "transform": [{"lookup": "s", "from": {"data": {"name": "names"}, "key": "s", "fields": ["name"]}}],
 "encoding": {
  "x": {"field": "x", "type": "quantitative", "scale": {"domain": [0.8, 6.2], "nice": false, "zero": false}, "axis": {"values": [1,2,3,4,5,6], "format": "d", "title": "Timestamp * 500"}},
  "y": {"field": "y", "type": "quantitative", "scale": {"domain": [-0.04, 1.04], "nice": false, "zero": false}, "axis": {"values": [0,0.1,0.2,0.3,0.4,0.5,0.6,0.7,0.8,0.9,1], "format": "~g", "title": "CMM Missed"}},
  "color": {"field": "name", "type": "nominal", "title": null, "scale": {"domain": ["CluStream (Micro)","CluStreamOD (Micro)","CluStream (Macro)","CluStreamOD (Macro)"], "range": ["#0000ff","#ff0000","#00ff00","#000000"]}}
 },
 "layer": [
  {"mark": {"type": "line", "strokeWidth": 1.3}},
  {"transform": [{"filter": {"field": "s", "oneOf": [1,3]}}], "mark": {"type": "point", "shape": "square", "filled": false, "size": 16, "strokeWidth": 1}},
  {"transform": [{"filter": {"field": "s", "oneOf": [2,4]}}], "mark": {"type": "point", "shape": "circle", "filled": false, "size": 16, "strokeWidth": 1}},
  {"mark": {"type": "point", "filled": false, "size": 0, "strokeWidth": 1}, "encoding": {"shape": {"field": "name", "type": "nominal", "title": null, "scale": {"domain": ["CluStream (Micro)","CluStreamOD (Micro)","CluStream (Macro)","CluStreamOD (Macro)"], "range": ["M-1,0L-0.26,0M0.26,0L1,0M-0.26,-0.26L0.26,-0.26L0.26,0.26L-0.26,0.26Z","M-1,0L-0.3,0M0.3,0L1,0M0.3,0A0.3,0.3,0,1,1,-0.3,0A0.3,0.3,0,1,1,0.3,0Z","M-1,0L-0.26,0M0.26,0L1,0M-0.26,-0.26L0.26,-0.26L0.26,0.26L-0.26,0.26Z","M-1,0L-0.3,0M0.3,0L1,0M0.3,0A0.3,0.3,0,1,1,-0.3,0A0.3,0.3,0,1,1,0.3,0Z"]}}}}
 ]}
]}
]
}
